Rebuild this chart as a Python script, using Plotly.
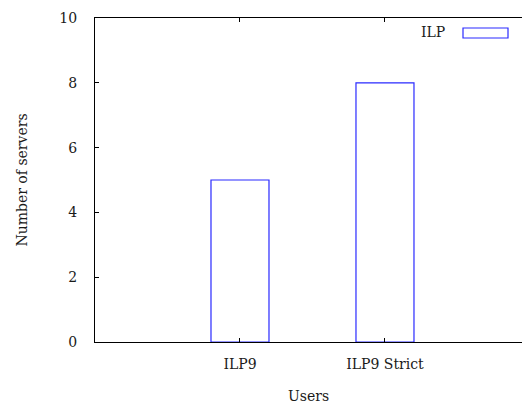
import plotly.graph_objects as go

categories = ["ILP9", "ILP9 Strict"]
values = [5, 8]
series_name = "ILP"
y_ticks = [0, 2, 4, 6, 8, 10]

font_family = "DejaVu Serif"
blue = "#2a2aff"
fnt = dict(family=font_family, size=14, color="#1a1a1a")

fig = go.Figure()
fig.add_trace(go.Bar(
    x=[0, 1], y=values, width=0.4,
    marker=dict(color="white", line=dict(color=blue, width=1.2)),
    name=series_name, showlegend=False,
))

fig.update_layout(
    width=522, height=407,
    margin=dict(l=95, r=0, t=18, b=65, autoexpand=False),
    plot_bgcolor="white", paper_bgcolor="white",
    font=fnt,
    xaxis=dict(
        range=[-1, 1.945], tickvals=[0, 1], ticktext=categories,
        showline=True, linecolor="black", linewidth=1, mirror="ticks",
        ticks="inside", ticklen=4, tickcolor="black",
        showgrid=False, zeroline=False, automargin=False,
        tickfont=fnt,
        title=dict(text="Users", standoff=20, font=fnt),
        ticklabelstandoff=9,
    ),
    yaxis=dict(
        range=[0, 10], tickvals=y_ticks,
        showline=True, linecolor="black", linewidth=1, mirror=False,
        ticks="inside", ticklen=4, tickcolor="black",
        showgrid=False, zeroline=False, automargin=False,
        tickfont=fnt,
        title=dict(text="Number of servers", standoff=28, font=fnt),
        ticklabelstandoff=14,
    ),
    annotations=[dict(
        text=series_name, xref="paper", yref="paper",
        x=(447 - 95) / 427, y=(342 - 32) / 324, xanchor="right", yanchor="middle",
        showarrow=False, font=fnt,
    )],
    shapes=[dict(
        type="rect", xref="paper", yref="paper",
        x0=(463 - 95) / 427, x1=(508 - 95) / 427,
        y0=(342 - 38) / 324, y1=(342 - 28) / 324,
        line=dict(color=blue, width=1.2), fillcolor="white",
    )],
)

fig.write_html(
    "out.html",
    config={"displayModeBar": False},
    post_script="document.body.style.margin='0';document.body.style.overflow='hidden';",
)
